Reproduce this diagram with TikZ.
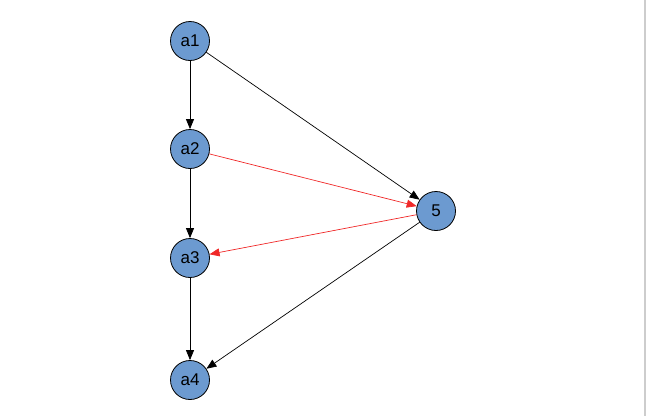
\documentclass[tikz,border=0pt]{standalone}
\usepackage{fontspec}
\setmainfont{Liberation Sans}
\usetikzlibrary{arrows.meta}
\definecolor{nodeblue}{RGB}{108,154,208}
\definecolor{edgered}{RGB}{240,40,40}
\definecolor{framegray}{RGB}{205,205,205}
\tikzset{
  vtx/.style={circle, draw=black, fill=nodeblue, line width=0.8pt, minimum size=39pt, inner sep=0pt, font=\fontsize{17}{19}\selectfont},
  blk/.style={draw=black, line width=0.7pt, -{Triangle[length=10pt,width=8pt]}},
  rde/.style={draw=edgered, line width=0.7pt, -{Triangle[length=10pt,width=8pt]}}
}
\begin{document}
\begin{tikzpicture}[x=1pt,y=-1pt]
\useasboundingbox (0,0) rectangle (647,416);
\draw[framegray, line width=1.5pt] (645,0) -- (645,416);
\node[vtx] (a1) at (190,41) {a1};
\node[vtx] (a2) at (190,149) {a2};
\node[vtx] (a3) at (190,258) {a3};
\node[vtx] (a4) at (190,380) {a4};
\node[vtx] (n5) at (436,211) {5};
\draw[blk] (a1) -- (a2);
\draw[blk] (a2) -- (a3);
\draw[blk] (a3) -- (a4);
\draw[blk] (a1) -- (n5);
\draw[blk] (n5) -- (a4);
\draw[rde] (a2) -- (n5);
\draw[rde] (n5) -- (a3);
\end{tikzpicture}
\end{document}
